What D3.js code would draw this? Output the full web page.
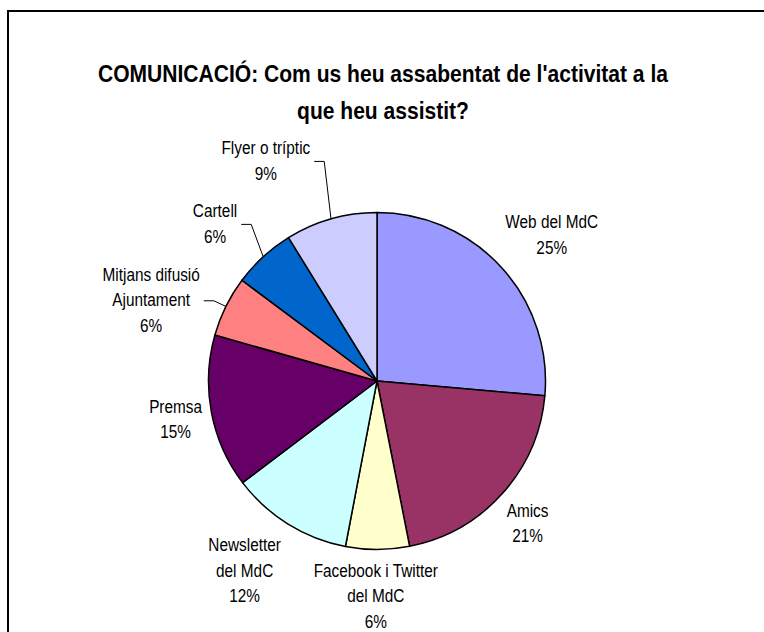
<!DOCTYPE html>
<html>
<head>
<meta charset="utf-8">
<script src="https://d3js.org/d3.v7.min.js"></script>
<style>
  body { margin: 0; background: #fff; }
  text { font-family: "Liberation Sans", Arial, sans-serif; fill: #000; }
</style>
</head>
<body>
<script>
// slice shares as drawn, read clockwise from 12 o'clock
var categories = ["Web del MdC", "Amics", "Facebook i Twitter del MdC", "Newsletter del MdC",
                  "Premsa", "Mitjans difusió Ajuntament", "Cartell", "Flyer o tríptic"];
var labelLines = [["Web del MdC"], ["Amics"], ["Facebook i Twitter", "del MdC"], ["Newsletter", "del MdC"],
                  ["Premsa"], ["Mitjans difusió", "Ajuntament"], ["Cartell"], ["Flyer o tríptic"]];
var shares = [26.4, 20.5, 6.1, 11.7, 14.7, 5.8, 6.0, 8.8];
var pctLabels = ["25%", "21%", "6%", "12%", "15%", "6%", "6%", "9%"];
var sliceColors = ["#9999FF", "#993366", "#FFFFCC", "#CCFFFF", "#660066", "#FF8080", "#0066CC", "#CCCCFF"];
var titleLines = ["COMUNICACIÓ: Com us heu assabentat de l'activitat a la", "que heu assistit?"];

var W = 764, H = 632;
var cx = 377, cy = 381, r = 168.5;

// label placement: extra turn (deg) from slice mid-angle and distance from centre
var labelTurn = [2.5, 1.4, 0.5, 3.1, -0.1, -6.5, -3.3, -10.9];
var labelDist = [228, 207, 215, 231, 205, 240, 226, 247];
var leader = [false, false, false, false, false, true, true, true];

var fs = 18.5, squeeze = 0.83, lh = 25.5;

var svg = d3.select("body").append("svg")
    .attr("width", W)
    .attr("height", H);

// chart frame (right and bottom edges fall outside the picture)
svg.append("rect")
    .attr("x", 8).attr("y", 11)
    .attr("width", 900).attr("height", 800)
    .attr("fill", "#fff")
    .attr("stroke", "#000")
    .attr("stroke-width", 2);

// title
titleLines.forEach(function(t, i) {
  svg.append("g")
    .attr("transform", "translate(383," + (82 + i * 37) + ") scale(0.86,1)")
    .append("text")
    .attr("text-anchor", "middle")
    .style("font-weight", "bold")
    .style("font-size", "24.5px")
    .text(t);
});

var pie = d3.pie().sort(null).value(function(d) { return d; });
var arcs = pie(shares);
var arc = d3.arc().innerRadius(0).outerRadius(r);

var g = svg.append("g").attr("transform", "translate(" + cx + "," + cy + ")");

g.selectAll("path.slice")
  .data(arcs)
  .enter().append("path")
    .attr("class", "slice")
    .attr("d", arc)
    .attr("fill", function(d, i) { return sliceColors[i]; })
    .attr("stroke", "#000")
    .attr("stroke-width", 1.5)
    .attr("stroke-linejoin", "round");

// labels
arcs.forEach(function(d, i) {
  var mid = (d.startAngle + d.endAngle) / 2;
  var a = mid + labelTurn[i] * Math.PI / 180;
  var lx = labelDist[i] * Math.sin(a);
  var ly = -labelDist[i] * Math.cos(a);
  var lines = labelLines[i].concat([pctLabels[i]]);
  var n = lines.length;
  var maxw = 0;
  lines.forEach(function(t, k) {
    var by = ly + (k - (n - 1) / 2) * lh + 0.35 * fs;
    var tx = g.append("g")
      .attr("transform", "translate(" + lx + "," + by + ") scale(" + squeeze + ",1)")
      .append("text")
      .attr("text-anchor", "middle")
      .style("font-size", fs + "px")
      .text(t);
    maxw = Math.max(maxw, tx.node().getComputedTextLength() * squeeze);
  });
  if (leader[i]) {
    var ex = r * Math.sin(mid), ey = -r * Math.cos(mid);
    var sx = lx + maxw / 2 + 4, sy = ly + 1;
    g.append("polyline")
      .attr("points", [[sx, sy], [sx + 10, sy], [ex, ey]].map(function(p) { return p.join(","); }).join(" "))
      .attr("fill", "none")
      .attr("stroke", "#000")
      .attr("stroke-width", 1);
  }
});
</script>
</body>
</html>
